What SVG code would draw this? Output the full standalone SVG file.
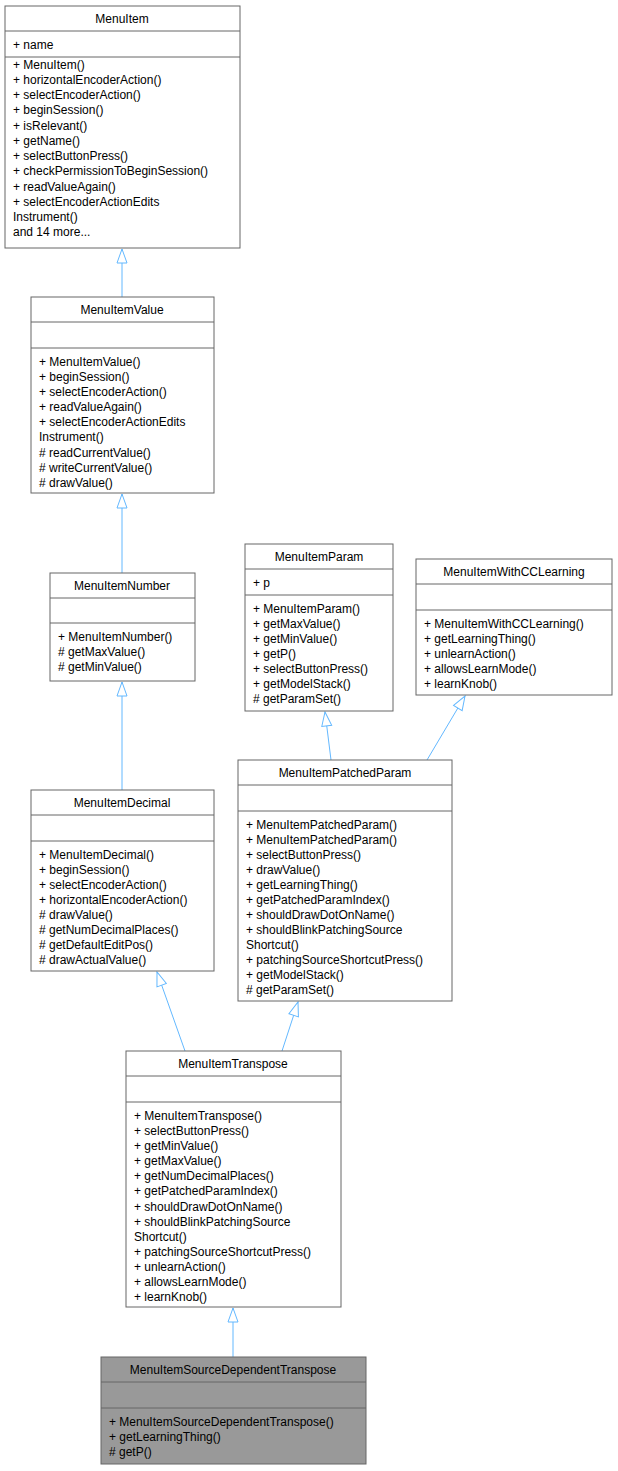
<svg xmlns="http://www.w3.org/2000/svg" width="618" height="1471" viewBox="0 0 618 1471">
<style>
rect{fill:#fff;stroke:#666;stroke-width:1}
line.s{stroke:#666;stroke-width:1}
text{font-family:"Liberation Sans",Arial,sans-serif;font-size:12px;fill:#000}
.t{text-anchor:middle}
.e{stroke:#63b8ff;stroke-width:1;fill:none}
</style>
<defs>
<marker id="a" markerUnits="userSpaceOnUse" markerWidth="16" markerHeight="12" refX="15" refY="6" orient="auto">
<path d="M1,1 L15,6 L1,11 Z" fill="#fff" stroke="#63b8ff"/>
</marker>
</defs>
<g id="edges">
<path class="e" d="M122,297 L122,249" marker-end="url(#a)"/>
<path class="e" d="M122,573 L122,494" marker-end="url(#a)"/>
<path class="e" d="M122,790 L122,682" marker-end="url(#a)"/>
<path class="e" d="M331,760 L325,712" marker-end="url(#a)"/>
<path class="e" d="M427,760 L465,696" marker-end="url(#a)"/>
<path class="e" d="M185,1051 L157,972" marker-end="url(#a)"/>
<path class="e" d="M282,1051 L298,1002" marker-end="url(#a)"/>
<path class="e" d="M233,1357 L233,1308" marker-end="url(#a)"/>
</g>
<g id="MenuItem">
<rect x="5" y="6" width="235" height="242"/>
<line class="s" x1="5" y1="31" x2="240" y2="31"/><line class="s" x1="5" y1="57" x2="240" y2="57"/>
<text class="t" x="122" y="23">MenuItem</text>
<text x="13" y="49">+ name</text>
<text x="13" y="69">+ MenuItem()</text>
<text x="13" y="84">+ horizontalEncoderAction()</text>
<text x="13" y="99">+ selectEncoderAction()</text>
<text x="13" y="114">+ beginSession()</text>
<text x="13" y="130">+ isRelevant()</text>
<text x="13" y="145">+ getName()</text>
<text x="13" y="160">+ selectButtonPress()</text>
<text x="13" y="175">+ checkPermissionToBeginSession()</text>
<text x="13" y="191">+ readValueAgain()</text>
<text x="13" y="206">+ selectEncoderActionEdits</text>
<text x="13" y="221">Instrument()</text>
<text x="13" y="236">and 14 more...</text>
</g>
<g id="MenuItemValue">
<rect x="31" y="297" width="183" height="196"/>
<line class="s" x1="31" y1="322" x2="214" y2="322"/><line class="s" x1="31" y1="348" x2="214" y2="348"/>
<text class="t" x="122" y="314">MenuItemValue</text>
<text x="39" y="366">+ MenuItemValue()</text>
<text x="39" y="381">+ beginSession()</text>
<text x="39" y="396">+ selectEncoderAction()</text>
<text x="39" y="411">+ readValueAgain()</text>
<text x="39" y="426">+ selectEncoderActionEdits</text>
<text x="39" y="441">Instrument()</text>
<text x="39" y="457"># readCurrentValue()</text>
<text x="39" y="472"># writeCurrentValue()</text>
<text x="39" y="487"># drawValue()</text>
</g>
<g id="MenuItemNumber">
<rect x="50" y="573" width="145" height="108"/>
<line class="s" x1="50" y1="598" x2="195" y2="598"/><line class="s" x1="50" y1="623" x2="195" y2="623"/>
<text class="t" x="122" y="590">MenuItemNumber</text>
<text x="58" y="641">+ MenuItemNumber()</text>
<text x="58" y="656"># getMaxValue()</text>
<text x="58" y="671"># getMinValue()</text>
</g>
<g id="MenuItemDecimal">
<rect x="31" y="790" width="183" height="181"/>
<line class="s" x1="31" y1="815" x2="214" y2="815"/><line class="s" x1="31" y1="841" x2="214" y2="841"/>
<text class="t" x="122" y="807">MenuItemDecimal</text>
<text x="39" y="859">+ MenuItemDecimal()</text>
<text x="39" y="874">+ beginSession()</text>
<text x="39" y="889">+ selectEncoderAction()</text>
<text x="39" y="904">+ horizontalEncoderAction()</text>
<text x="39" y="919"># drawValue()</text>
<text x="39" y="934"># getNumDecimalPlaces()</text>
<text x="39" y="949"># getDefaultEditPos()</text>
<text x="39" y="964"># drawActualValue()</text>
</g>
<g id="MenuItemParam">
<rect x="245" y="544" width="148" height="167"/>
<line class="s" x1="245" y1="569" x2="393" y2="569"/><line class="s" x1="245" y1="595" x2="393" y2="595"/>
<text class="t" x="319" y="561">MenuItemParam</text>
<text x="253" y="587">+ p</text>
<text x="253" y="613">+ MenuItemParam()</text>
<text x="253" y="628">+ getMaxValue()</text>
<text x="253" y="643">+ getMinValue()</text>
<text x="253" y="658">+ getP()</text>
<text x="253" y="673">+ selectButtonPress()</text>
<text x="253" y="688">+ getModelStack()</text>
<text x="253" y="703"># getParamSet()</text>
</g>
<g id="MenuItemWithCCLearning">
<rect x="416" y="559" width="196" height="136"/>
<line class="s" x1="416" y1="584" x2="612" y2="584"/><line class="s" x1="416" y1="610" x2="612" y2="610"/>
<text class="t" x="514" y="576">MenuItemWithCCLearning</text>
<text x="424" y="628">+ MenuItemWithCCLearning()</text>
<text x="424" y="643">+ getLearningThing()</text>
<text x="424" y="658">+ unlearnAction()</text>
<text x="424" y="673">+ allowsLearnMode()</text>
<text x="424" y="688">+ learnKnob()</text>
</g>
<g id="MenuItemPatchedParam">
<rect x="238" y="760" width="214" height="241"/>
<line class="s" x1="238" y1="785" x2="452" y2="785"/><line class="s" x1="238" y1="811" x2="452" y2="811"/>
<text class="t" x="345" y="777">MenuItemPatchedParam</text>
<text x="246" y="829">+ MenuItemPatchedParam()</text>
<text x="246" y="844">+ MenuItemPatchedParam()</text>
<text x="246" y="859">+ selectButtonPress()</text>
<text x="246" y="874">+ drawValue()</text>
<text x="246" y="889">+ getLearningThing()</text>
<text x="246" y="904">+ getPatchedParamIndex()</text>
<text x="246" y="919">+ shouldDrawDotOnName()</text>
<text x="246" y="934">+ shouldBlinkPatchingSource</text>
<text x="246" y="949">Shortcut()</text>
<text x="246" y="964">+ patchingSourceShortcutPress()</text>
<text x="246" y="979">+ getModelStack()</text>
<text x="246" y="994"># getParamSet()</text>
</g>
<g id="MenuItemTranspose">
<rect x="126" y="1051" width="215" height="256"/>
<line class="s" x1="126" y1="1076" x2="341" y2="1076"/><line class="s" x1="126" y1="1102" x2="341" y2="1102"/>
<text class="t" x="233" y="1068">MenuItemTranspose</text>
<text x="134" y="1120">+ MenuItemTranspose()</text>
<text x="134" y="1135">+ selectButtonPress()</text>
<text x="134" y="1150">+ getMinValue()</text>
<text x="134" y="1165">+ getMaxValue()</text>
<text x="134" y="1180">+ getNumDecimalPlaces()</text>
<text x="134" y="1195">+ getPatchedParamIndex()</text>
<text x="134" y="1211">+ shouldDrawDotOnName()</text>
<text x="134" y="1226">+ shouldBlinkPatchingSource</text>
<text x="134" y="1241">Shortcut()</text>
<text x="134" y="1256">+ patchingSourceShortcutPress()</text>
<text x="134" y="1271">+ unlearnAction()</text>
<text x="134" y="1286">+ allowsLearnMode()</text>
<text x="134" y="1301">+ learnKnob()</text>
</g>
<g id="MenuItemSourceDependentTranspose">
<rect x="101" y="1357" width="265" height="107" style="fill:#999"/>
<line class="s" x1="101" y1="1382" x2="366" y2="1382"/><line class="s" x1="101" y1="1408" x2="366" y2="1408"/>
<text class="t" x="233" y="1374">MenuItemSourceDependentTranspose</text>
<text x="109" y="1426">+ MenuItemSourceDependentTranspose()</text>
<text x="109" y="1441">+ getLearningThing()</text>
<text x="109" y="1456"># getP()</text>
</g>
</svg>
